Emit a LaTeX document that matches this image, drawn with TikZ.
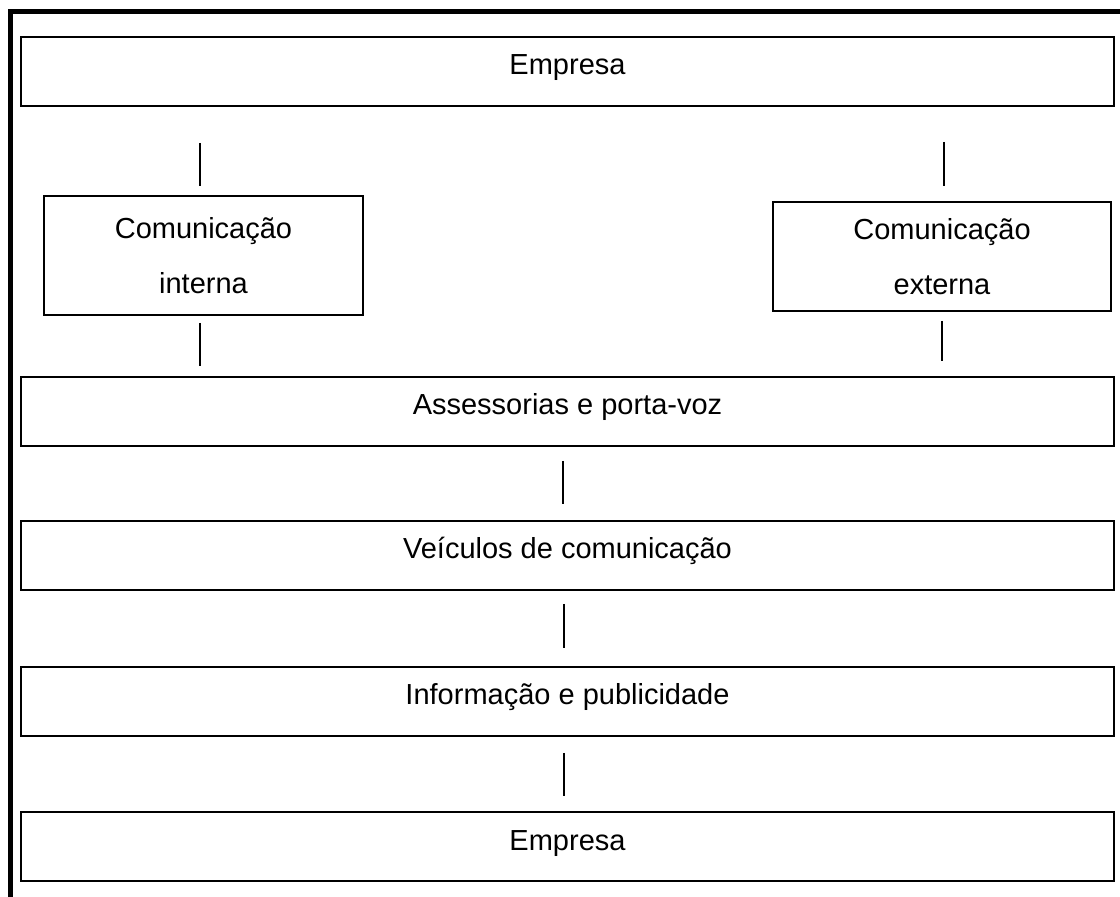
\documentclass[tikz,border=0pt]{standalone}
\usepackage{fontspec}
\setmainfont{Liberation Sans}

\tikzset{
  box/.style={draw, line width=1pt, inner sep=0pt, align=center,
    font=\fontsize{14.5}{27.5}\selectfont},
  wide/.style={box, minimum width=546.5pt, minimum height=34.5pt,
    text height=11pt, text depth=7.5pt},
  link/.style={line width=1pt},
  frame/.style={line width=2.5pt}
}

\begin{document}
\begin{tikzpicture}[x=0.5pt,y=-0.5pt]
  \useasboundingbox (0,0) rectangle (1120,897);
  \draw[frame] (10,897) -- (10,11.5) -- (1120,11.5);

  \node[wide] (emp1) at (567.5,71.5) {Empresa};
  \node[box, minimum width=159.5pt, minimum height=59.5pt] (cint) at (203.5,255.5) {Comunicação\\interna};
  \node[box, minimum width=169pt, minimum height=54.5pt] (cext) at (942,256.5) {Comunicação\\externa};
  \node[wide] (asses) at (567.5,411.5) {Assessorias e porta-voz};
  \node[wide] (veic) at (567.5,555.5) {Veículos de comunicação};
  \node[wide] (info) at (567.5,701.5) {Informação e publicidade};
  \node[wide] (emp2) at (567.5,847) {Empresa};

  \draw[link, shorten <=18pt, shorten >=4.5pt] ([xshift=-1.75pt]cint.north |- emp1.south) -- ([xshift=-1.75pt]cint.north);
  \draw[link, shorten <=17.5pt, shorten >=7.5pt] ([xshift=1pt]cext.north |- emp1.south) -- ([xshift=1pt]cext.north);
  \draw[link, shorten <=3.5pt, shorten >=5pt] ([xshift=-1.75pt]cint.south) -- ([xshift=-1.75pt]cint.south |- asses.north);
  \draw[link, shorten <=4.5pt, shorten >=7.5pt] (cext.south) -- (cext.south |- asses.north);
  \draw[link, shorten <=7pt, shorten >=8pt] ([xshift=-2.25pt]asses.south) -- ([xshift=-2.25pt]veic.north);
  \draw[link, shorten <=6.5pt, shorten >=9pt] ([xshift=-1.75pt]veic.south) -- ([xshift=-1.75pt]info.north);
  \draw[link, shorten <=8pt, shorten >=7.5pt] ([xshift=-1.75pt]info.south) -- ([xshift=-1.75pt]emp2.north);
\end{tikzpicture}
\end{document}
